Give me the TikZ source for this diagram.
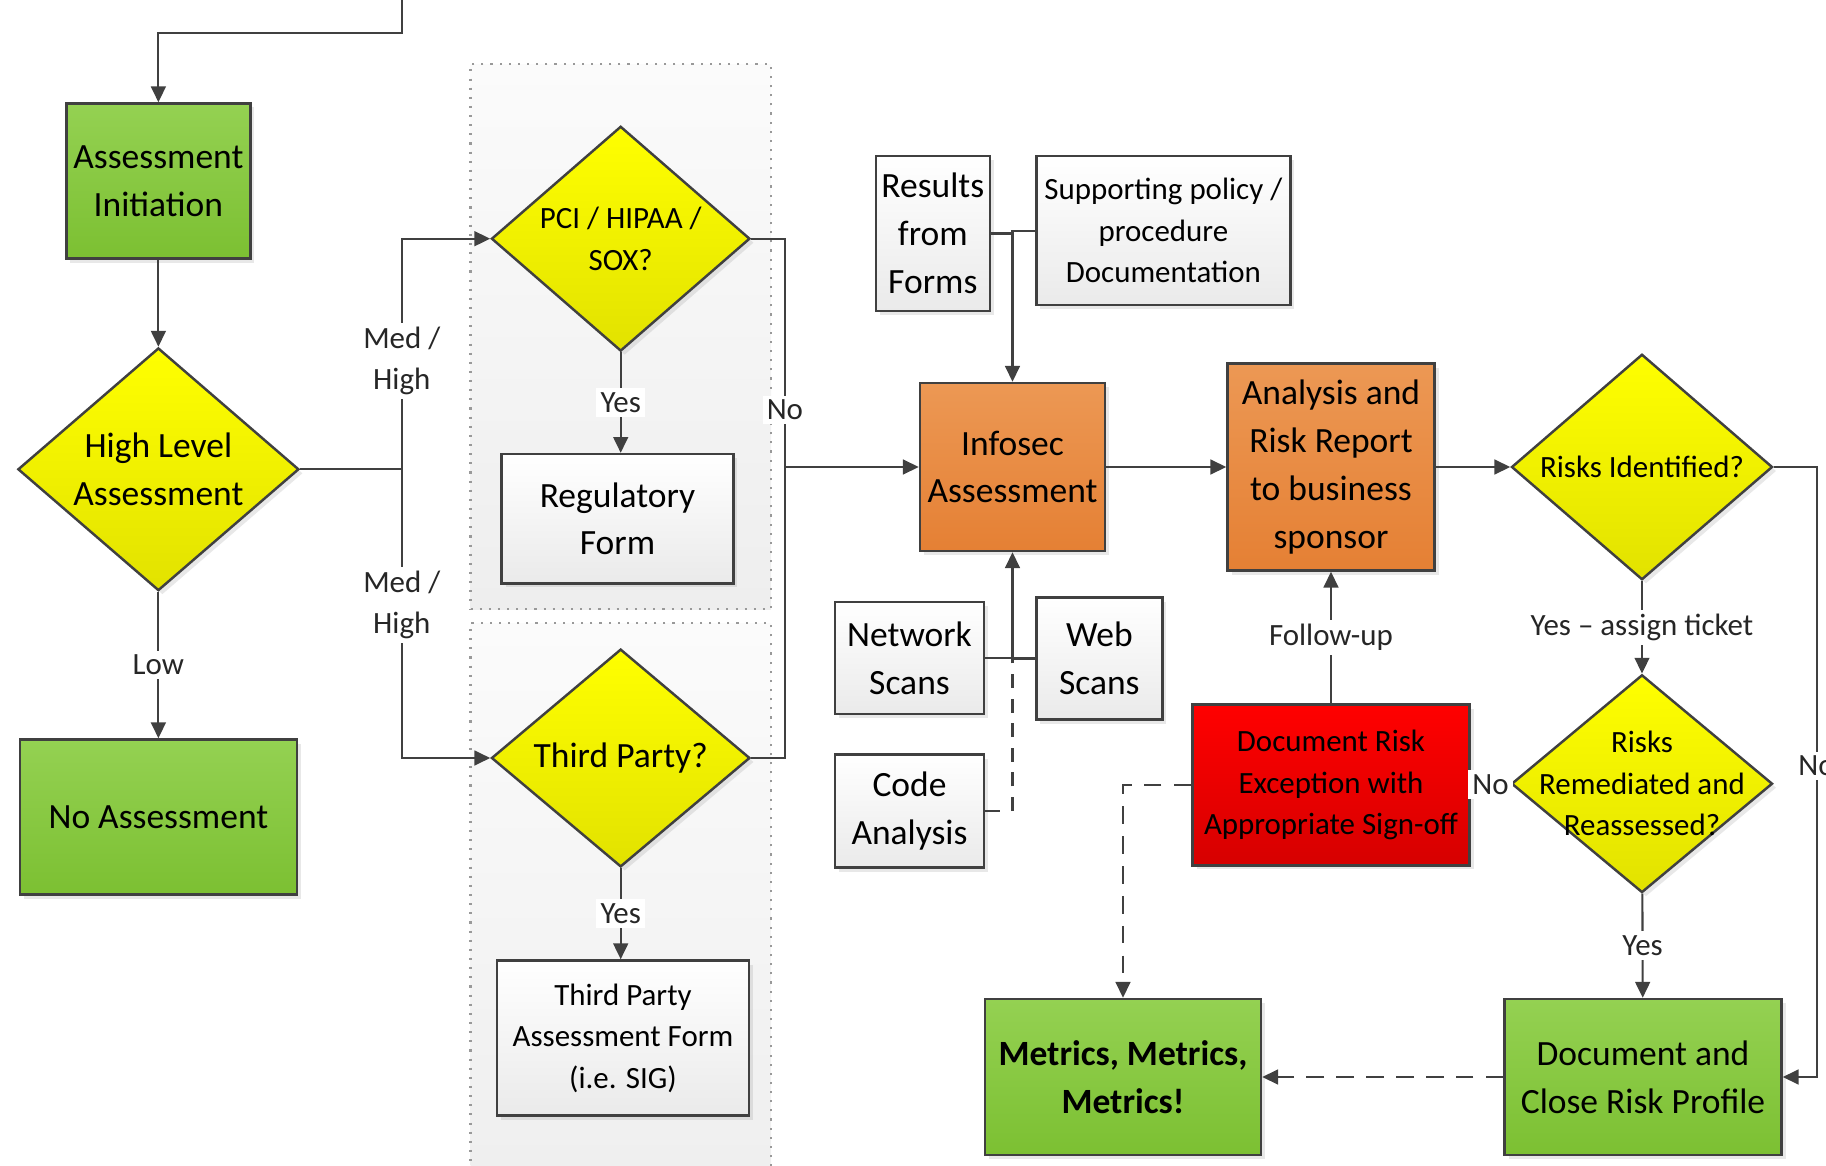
\documentclass[tikz,border=0pt]{standalone}
\usepackage{fontspec}
\setmainfont{Carlito}
\usetikzlibrary{shapes.geometric, arrows.meta, shadows}

\definecolor{linegray}{RGB}{64,64,64}
\definecolor{greentop}{RGB}{148,209,82}
\definecolor{greenbot}{RGB}{124,192,50}
\definecolor{yellowtop}{RGB}{255,255,0}
\definecolor{yellowbot}{RGB}{226,226,0}
\definecolor{orangetop}{RGB}{236,152,84}
\definecolor{orangebot}{RGB}{229,128,52}
\definecolor{redtop}{RGB}{255,0,0}
\definecolor{redbot}{RGB}{214,0,0}
\definecolor{graybot}{RGB}{234,234,234}
\definecolor{grouptop}{RGB}{251,251,251}
\definecolor{groupbot}{RGB}{238,238,238}

\tikzset{
  base/.style={draw=linegray, line width=0.7pt, align=center, inner sep=0pt,
    font=\fontsize{10.1}{13.6}\selectfont,
    drop shadow={shadow xshift=0.04cm, shadow yshift=-0.04cm, opacity=0.18}},
  smalltxt/.style={font=\fontsize{8.8}{11.8}\selectfont},
  greenbox/.style={base, rectangle, top color=greentop, bottom color=greenbot},
  orangebox/.style={base, rectangle, top color=orangetop, bottom color=orangebot},
  redbox/.style={base, rectangle, top color=redtop, bottom color=redbot, smalltxt},
  formbox/.style={base, rectangle, top color=white, bottom color=graybot},
  decision/.style={base, diamond, top color=yellowtop, bottom color=yellowbot},
  group/.style={draw=black!40, dotted, line width=0.6pt, top color=grouptop, bottom color=groupbot},
  flow/.style={draw=linegray, line width=0.6pt, -{Triangle[length=4.5pt, width=4.2pt]}},
  link/.style={draw=linegray, line width=0.6pt},
  lbl/.style={fill=white, inner sep=1.2pt, align=center, text=black!85, smalltxt}
}

\begin{document}
\begin{tikzpicture}[x=1cm, y=-1cm]
\useasboundingbox (0,0) rectangle (18.26,11.66);
\clip (0,0) rectangle (18.26,11.66);

% dotted groups
\node[group, minimum width=3.005cm, minimum height=5.45cm] (grpreg) at (6.2075,3.365) {};
\node[group, minimum width=3.005cm, minimum height=5.9cm] (grpthird) at (6.2075,9.18) {};

% left column
\coordinate (topin) at (4.018,0);
\node[greenbox, minimum width=1.84cm, minimum height=1.55cm] (ai) at (1.584,1.81) {Assessment\\Initiation};
\node[decision, minimum width=2.81cm, minimum height=2.36cm] (hla) at (1.584,4.693) {High Level\\Assessment};
\node[greenbox, minimum width=2.77cm, minimum height=1.55cm] (na) at (1.584,8.17) {No Assessment};
\coordinate (split) at (4.018,4.693);

% regulatory / third party
\node[decision, smalltxt, minimum width=2.585cm, minimum height=2.166cm] (pci) at (6.207,2.387) {PCI / HIPAA /\\SOX?};
\node[formbox, minimum width=2.318cm, minimum height=1.293cm] (rf) at (6.175,5.187) {Regulatory\\Form};
\node[decision, minimum width=2.585cm, minimum height=2.178cm] (tp) at (6.207,7.58) {Third Party?};
\node[formbox, smalltxt, minimum width=2.515cm, minimum height=1.55cm] (tpaf) at (6.23,10.38) {Third Party\\Assessment Form\\(i.e. SIG)};
\coordinate (nojoin) at (7.849,4.67);

% inputs
\node[formbox, minimum width=1.14cm, minimum height=1.55cm] (rff) at (9.328,2.335) {Results\\from\\Forms};
\node[formbox, smalltxt, minimum width=2.54cm, minimum height=1.49cm] (spd) at (11.634,2.307) {Supporting policy /\\procedure\\Documentation};
\node[formbox, minimum width=1.49cm, minimum height=1.12cm] (ns) at (9.095,6.58) {Network\\Scans};
\node[formbox, minimum width=1.26cm, minimum height=1.22cm] (ws) at (10.993,6.585) {Web\\Scans};
\node[formbox, minimum width=1.49cm, minimum height=1.13cm] (ca) at (9.095,8.11) {Code\\Analysis};

% main flow
\node[orangebox, minimum width=1.85cm, minimum height=1.68cm] (ia) at (10.125,4.67) {Infosec\\Assessment};
\node[orangebox, minimum width=2.07cm, minimum height=2.07cm] (ar) at (13.31,4.67) {Analysis and\\Risk Report\\to business\\sponsor};
\node[decision, smalltxt, minimum width=2.61cm, minimum height=2.19cm] (ri) at (16.42,4.67) {Risks Identified?};
\node[decision, minimum width=2.61cm, minimum height=2.178cm] (rrr) at (16.42,7.837) {};
\node[smalltxt, align=center] (rrrtxt) at (rrr) {Risks\\Remediated and\\Reassessed?};
\node[redbox, minimum width=2.77cm, minimum height=1.607cm] (dre) at (13.31,7.85) {Document Risk\\Exception with\\Appropriate Sign-off};
\node[greenbox, minimum width=2.77cm, minimum height=1.56cm] (dcrp) at (16.43,10.77) {Document and\\Close Risk Profile};
\node[greenbox, font=\fontsize{10.1}{13.6}\selectfont\bfseries, minimum width=2.76cm, minimum height=1.56cm] (mm) at (11.23,10.77) {Metrics, Metrics,\\Metrics!};
\coordinate (rjoin) at (18.166,10.77);

% connectors
\draw[flow] (topin) -- ++(0,0.326) -| (ai.north);
\draw[flow] (ai) -- (hla);
\draw[flow] (hla) -- node[lbl] {Low} (na);
\draw[link] (hla.east) -- (split);
\draw[flow] (split) |- node[lbl, pos=0.235] {Med /\\High} (pci.west);
\draw[flow] (split) |- node[lbl, pos=0.235] {Med /\\High} (tp.west);
\draw[flow] (pci.south) -- node[lbl] {Yes} (pci.south |- rf.north);
\draw[flow] (tp.south) -- node[lbl] {Yes} (tp.south |- tpaf.north);
\draw[link] (pci.east) -| node[lbl, pos=0.875] {No} (nojoin);
\draw[link] (tp.east) -| (nojoin);
\draw[flow] (nojoin) -- (ia.west);

\draw[link] (rff) -- (rff -| ia);
\draw[link] (rff -| ia) -- (spd -| ia) -- (spd);
\draw[flow] (spd -| ia) -- (ia);
\draw[link] (ns) -- (ns -| ia);
\draw[link] (ws) -- (ws -| ia);
\draw[flow] (ws -| ia) -- (ia);
\draw[link] (ca.east) -- ++(0.15,0);
\draw[link, dash pattern=on 4pt off 3pt] (ca -| ia) -- (ws -| ia);

\draw[flow] (ia) -- (ar);
\draw[flow] (ar) -- (ri);
\draw[flow] (ri) -- node[lbl] {Yes -- assign ticket} (rrr);
\draw[flow] (rrr) -- node[lbl] {Yes} (dcrp);
\draw[flow] (ri.east) -| node[lbl, pos=0.745] {No} (rjoin) -- (dcrp.east);
\draw[flow] (rrr.west) -- node[lbl] {No} (dre.east);
\draw[flow] (dre) -- node[lbl] {Follow-up} (ar);
\draw[flow, dash pattern=on 5pt off 3.5pt] (dre.west) -| (mm.north);
\draw[flow, dash pattern=on 5pt off 3.5pt] (dcrp) -- (mm);
\end{tikzpicture}
\end{document}
